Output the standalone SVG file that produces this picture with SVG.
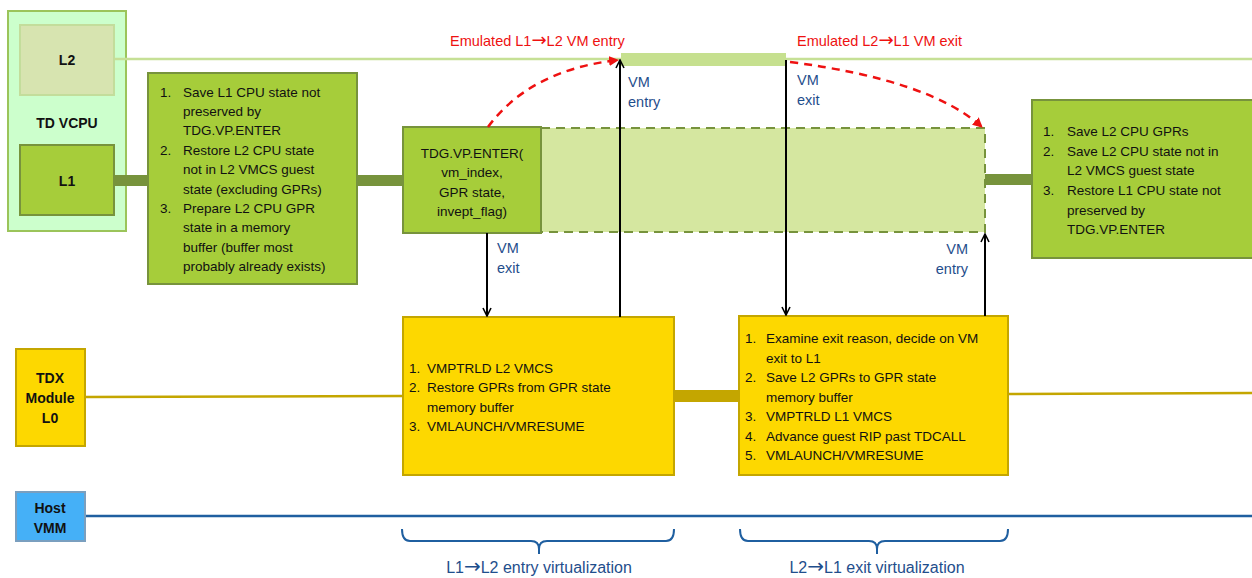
<svg xmlns="http://www.w3.org/2000/svg" width="1252" height="578" viewBox="0 0 1252 578">
<defs>
<style>
text{font-family:"Liberation Sans",Arial,sans-serif;font-size:13.5px;fill:#111}
.b{font-weight:bold;text-anchor:middle;font-size:14px}
.c{text-anchor:middle}
.blue{fill:#1f4e8c;font-size:14.5px}
.red{fill:#ee1111;font-size:14.5px}
.ar{font-family:"DejaVu Sans",sans-serif;font-size:1.25em}
.g{fill:#a6cd3a;stroke:#77933c;stroke-width:2}
.y{fill:#fdd800;stroke:#c4a600;stroke-width:2}
.k{stroke:#000;stroke-width:2;fill:none}
</style>
<marker id="ah" viewBox="0 0 10 10" refX="9" refY="5" markerWidth="10" markerHeight="10" markerUnits="userSpaceOnUse" orient="auto">
<path d="M1,1 L9,5 L1,9" fill="none" stroke="#000" stroke-width="1.6"/>
</marker>
<marker id="rh" viewBox="0 0 10 10" refX="9" refY="5" markerWidth="10" markerHeight="10" markerUnits="userSpaceOnUse" orient="auto">
<path d="M0,0 L10,5 L0,10 Z" fill="#ee1111"/>
</marker>
</defs>

<g id="tdvcpu">
<rect x="8" y="11" width="118" height="220" fill="#ccffcc" stroke="#9bc45a" stroke-width="2"/>
<text x="67" y="128" class="b">TD VCPU</text>
</g>

<g id="lanes">
<line x1="114" y1="59" x2="1252" y2="59" stroke="#c6e096" stroke-width="2.5"/>
<rect x="621" y="53" width="165" height="13" fill="#c6e08f"/>
<line x1="85" y1="397" x2="403" y2="396" stroke="#c4a600" stroke-width="2.5"/>
<line x1="1008" y1="394" x2="1252" y2="393" stroke="#c4a600" stroke-width="2.5"/>
<line x1="85" y1="516" x2="1252" y2="516" stroke="#1f5fa0" stroke-width="2.5"/>
<rect x="114" y="175" width="34" height="11" fill="#77933c"/>
<rect x="357" y="175" width="46" height="11" fill="#77933c"/>
<rect x="985" y="174" width="47" height="11" fill="#77933c"/>
<rect x="674" y="390" width="65" height="12" fill="#c4a600"/>
</g>

<g id="l2">
<rect x="20" y="25" width="94" height="70" fill="#d7e4b0" stroke="#c3dd9b" stroke-width="2"/>
<text x="67" y="65" class="b">L2</text>
</g>
<g id="l1">
<rect x="20" y="145" width="94" height="70" fill="#a6cd3a" stroke="#77933c" stroke-width="2"/>
<text x="67" y="186" class="b">L1</text>
</g>

<g id="tdx">
<rect x="16" y="349" width="69" height="97" class="y"/>
<text x="50" y="383" class="b">TDX</text>
<text x="50" y="403" class="b">Module</text>
<text x="50" y="423" class="b">L0</text>
</g>
<g id="hostvmm">
<rect x="16" y="492" width="69" height="49" fill="#45b0f7" stroke="#7a9fbf" stroke-width="2"/>
<text x="50" y="513" class="b">Host</text>
<text x="50" y="533" class="b">VMM</text>
</g>

<g id="l1prep">
<rect x="148" y="73" width="209" height="211" class="g"/>
<text x="160" y="97">1.</text><text x="183" y="97">Save L1 CPU state not</text>
<text x="183" y="116">preserved by</text>
<text x="183" y="135">TDG.VP.ENTER</text>
<text x="160" y="155">2.</text><text x="183" y="155">Restore L2 CPU state</text>
<text x="183" y="174">not in L2 VMCS guest</text>
<text x="183" y="194">state (excluding GPRs)</text>
<text x="160" y="213">3.</text><text x="183" y="213">Prepare L2 CPU GPR</text>
<text x="183" y="232">state in a memory</text>
<text x="183" y="252">buffer (buffer most</text>
<text x="183" y="271">probably already exists)</text>
</g>

<g id="l2run">
<rect x="541" y="128" width="444" height="104" fill="#d5e7a0" stroke="#77933c" stroke-width="2" stroke-dasharray="9,6"/>
</g>

<g id="tdgenter">
<rect x="403" y="127" width="138" height="106" class="g"/>
<text x="472" y="158" class="c">TDG.VP.ENTER(</text>
<text x="472" y="177" class="c">vm_index,</text>
<text x="472" y="197" class="c">GPR state,</text>
<text x="472" y="216" class="c">invept_flag)</text>
</g>

<g id="l1post">
<rect x="1032" y="100" width="222" height="158" class="g"/>
<text x="1043" y="136">1.</text><text x="1067" y="136">Save L2 CPU GPRs</text>
<text x="1043" y="156">2.</text><text x="1067" y="156">Save L2 CPU state not in</text>
<text x="1067" y="175">L2 VMCS guest state</text>
<text x="1043" y="195">3.</text><text x="1067" y="195">Restore L1 CPU state not</text>
<text x="1067" y="215">preserved by</text>
<text x="1067" y="234">TDG.VP.ENTER</text>
</g>

<g id="entryvirt">
<rect x="403" y="317" width="271" height="158" class="y"/>
<text x="409" y="373">1.</text><text x="427" y="373">VMPTRLD L2 VMCS</text>
<text x="409" y="392">2.</text><text x="427" y="392">Restore GPRs from GPR state</text>
<text x="427" y="412">memory buffer</text>
<text x="409" y="431">3.</text><text x="427" y="431">VMLAUNCH/VMRESUME</text>
</g>

<g id="exitvirt">
<rect x="739" y="316" width="269" height="159" class="y"/>
<text x="745" y="343">1.</text><text x="766" y="343">Examine exit reason, decide on VM</text>
<text x="766" y="363">exit to L1</text>
<text x="745" y="382">2.</text><text x="766" y="382">Save L2 GPRs to GPR state</text>
<text x="766" y="402">memory buffer</text>
<text x="745" y="421">3.</text><text x="766" y="421">VMPTRLD L1 VMCS</text>
<text x="745" y="441">4.</text><text x="766" y="441">Advance guest RIP past TDCALL</text>
<text x="745" y="460">5.</text><text x="766" y="460">VMLAUNCH/VMRESUME</text>
</g>

<g id="connectors">
<line x1="487" y1="233" x2="487" y2="316" class="k" marker-end="url(#ah)"/>
<line x1="620" y1="317" x2="620" y2="60" class="k" marker-end="url(#ah)"/>
<line x1="786" y1="60" x2="786" y2="315" class="k" marker-end="url(#ah)"/>
<line x1="985" y1="316" x2="985" y2="234" class="k" marker-end="url(#ah)"/>
<path d="M488,127 Q530,70 618,60" fill="none" stroke="#ee1111" stroke-width="2.5" stroke-dasharray="8,6" marker-end="url(#rh)"/>
<path d="M790,62 Q930,80 982,127" fill="none" stroke="#ee1111" stroke-width="2.5" stroke-dasharray="8,6" marker-end="url(#rh)"/>
</g>

<g id="labels">
<text x="450" y="46" class="red">Emulated L1<tspan class="ar">→</tspan>L2 VM entry</text>
<text x="797" y="46" class="red">Emulated L2<tspan class="ar">→</tspan>L1 VM exit</text>
<text x="628" y="87" class="blue">VM</text>
<text x="628" y="107" class="blue">entry</text>
<text x="797" y="85" class="blue">VM</text>
<text x="797" y="105" class="blue">exit</text>
<text x="497" y="253" class="blue">VM</text>
<text x="497" y="273" class="blue">exit</text>
<text x="968" y="254" class="blue" text-anchor="end">VM</text>
<text x="968" y="274" class="blue" text-anchor="end">entry</text>
</g>

<g id="braces" fill="none" stroke="#1f5fa0" stroke-width="2">
<path d="M402,529 Q402,541 410,541 L531,541 Q539,541 539,549 L539,554 M539,549 Q539,541 547,541 L666,541 Q674,541 674,529"/>
<path d="M740,529 Q740,541 748,541 L869,541 Q877,541 877,549 L877,554 M877,549 Q877,541 885,541 L1000,541 Q1008,541 1008,529"/>
</g>
<text x="539" y="573" class="c blue" style="font-size:16px">L1<tspan class="ar">→</tspan>L2 entry virtualization</text>
<text x="877" y="573" class="c blue" style="font-size:16px">L2<tspan class="ar">→</tspan>L1 exit virtualization</text>
</svg>
